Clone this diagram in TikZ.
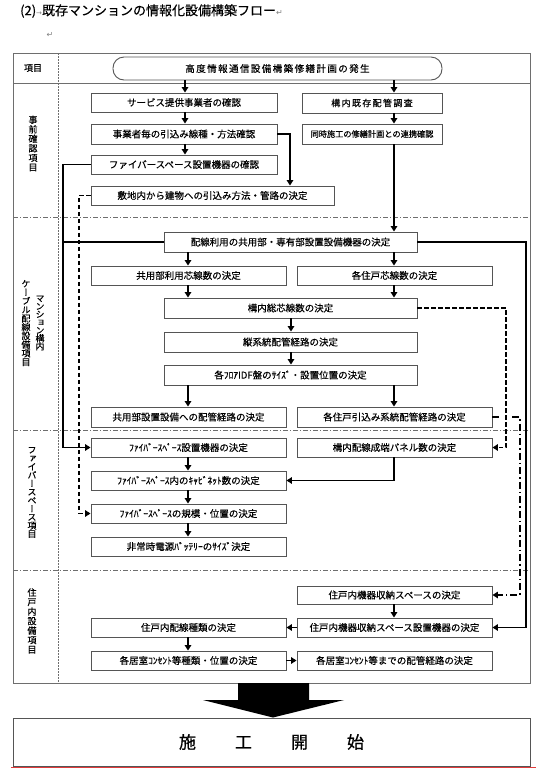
\documentclass[tikz,border=0pt]{standalone}
\usepackage{fontspec}
\setmainfont{Noto Sans CJK JP}[FakeBold=0.35]
\newfontfamily\jpv{Noto Sans CJK JP}[RawFeature=+vert,FakeBold=0.35]
\newfontfamily\jpls{Noto Sans CJK JP}[LetterSpace=15,FakeBold=0.35]
\newfontfamily\jpbig{Noto Sans CJK JP}[FakeBold=0.8]
\newfontfamily\dejavu{DejaVu Sans}
\usetikzlibrary{arrows.meta,calc}
\definecolor{boxgray}{RGB}{85,85,85}
\definecolor{tblgray}{RGB}{110,110,110}
\definecolor{redline}{RGB}{225,60,60}
\lineskiplimit=-10pt
\newcommand{\mybox}[7][]{%
  \node[box, minimum width={#5-#3}, minimum height={#6-#4}, #1] (#2) at ({(#3+#5)/2},{(#4+#6)/2}) {#7};}
\begin{document}
\begin{tikzpicture}[x=1pt,y=-1pt,
  box/.style={draw=boxgray, line width=0.9pt, fill=white, inner sep=0pt, font=\fontsize{9.5}{11}\selectfont},
  conn/.style={line width=1.4pt, black},
  arr/.style={conn, -{Triangle[length=5.5pt,width=6.5pt]}},
  dsh/.style={dash pattern=on 4.5pt off 2.5pt},
  ddot/.style={dash pattern=on 7pt off 3pt on 1.5pt off 3pt},
  sep/.style={draw=tblgray, line width=0.6pt, dash pattern=on 5pt off 2pt on 1pt off 2pt},
  vlab/.style={align=center, inner sep=0pt, font=\jpv\fontsize{9}{9.5}\selectfont},
  hlab/.style={inner sep=0pt, font=\fontsize{9}{11}\selectfont}]
\useasboundingbox (0,0) rectangle (539,769);
\fill[white] (0,0) rectangle (539,769);

% title
\node[anchor=west, inner sep=0pt, font=\fontsize{13}{15}\selectfont] (title) at (20,11)
  {(2)\textcolor{gray}{\dejavu\fontsize{7}{8}\selectfont →}既存マンションの情報化設備構築フロー\textcolor{gray}{\dejavu\fontsize{8}{8}\selectfont ↵}};
\node[inner sep=0pt, text=gray, font=\dejavu\fontsize{8}{8}\selectfont] (pmark) at (50,35) {↵};

% table
\draw[tblgray, line width=1pt] (13,53) rectangle (530,683);
\draw[tblgray, line width=0.8pt] (13,83) -- (530,83);
\draw[sep] (13,217) -- (530,217);
\draw[sep] (13,430) -- (530,430);
\draw[sep] (13,570) -- (530,570);
\draw[tblgray, line width=0.6pt, dash pattern=on 2pt off 1pt] (58,53) -- (58,683);

% row labels
\node[hlab] (L0) at (33,68) {項目};
\node[vlab] (L1) at (33,143.5) {事\\前\\確\\認\\項\\目};
\node[vlab, font=\jpv\fontsize{9}{8.7}\selectfont] (L2a) at (26,323) {ケ\\ー\\ブ\\ル\\配\\線\\設\\備\\項\\目};
\node[vlab, font=\jpv\fontsize{9}{8}\selectfont] (L2b) at (40,323) {マ\\ン\\シ\\ョ\\ン\\構\\内};
\node[vlab, font=\jpv\fontsize{9}{8.4}\selectfont] (L3) at (32,492.5) {フ\\ァ\\イ\\バ\\ー\\ス\\ペ\\ー\\ス\\項\\目};
\node[vlab] (L4) at (32,621) {住\\戸\\内\\設\\備\\項\\目};

% terminal
\node[box, rounded corners=11pt, minimum width=329, minimum height=23, font=\jpls\fontsize{9.5}{11}\selectfont] (T) at (277.5,68.5) {高度情報通信設備構築修繕計画の発生};

% boxes
\mybox{A1}{91}{93}{277}{112}{サービス提供事業者の確認}
\mybox{A2}{91}{124}{277}{144}{事業者毎の引込み線種・方法確認}
\mybox{A3}{91}{155}{277}{174}{ファイバースペース設置機器の確認}
\mybox{A4}{91}{186}{334}{205}{敷地内から建物への引込み方法・管路の決定}
\mybox[font=\jpls\fontsize{9}{11}\selectfont]{B1}{302}{93}{442}{113}{構内既存配管調査}
\mybox[font=\fontsize{8.2}{9}\selectfont]{B2}{302}{124}{442}{144}{同時施工の修繕計画との連携確認}

\mybox{C1}{164}{232}{417}{252}{配線利用の共用部・専有部設置設備機器の決定}
\mybox{C2}{91}{266}{286}{285}{共用部利用芯線数の決定}
\mybox{C3}{297}{266}{492}{285}{各住戸芯線数の決定}
\mybox{C4}{164}{298}{417}{318}{構内総芯線数の決定}
\mybox{C5}{164}{332}{417}{352}{縦系統配管経路の決定}
\mybox{C6}{164}{365}{417}{385}{各ﾌﾛｱIDF盤のｻｲｽﾞ・設置位置の決定}
\mybox{C7}{91}{407}{286}{427}{共用部設置設備への配管経路の決定}
\mybox{C8}{297}{407}{492}{427}{各住戸引込み系統配管経路の決定}

\mybox{D1}{91}{438}{286}{457}{ﾌｧｲﾊﾞｰｽﾍﾟｰｽ設置機器の決定}
\mybox{D2}{297}{438}{492}{457}{構内配線成端パネル数の決定}
\mybox{D3}{91}{471}{286}{490}{ﾌｧｲﾊﾞｰｽﾍﾟｰｽ内のｷｬﾋﾞﾈｯﾄ数の決定}
\mybox{D4}{91}{504}{286}{523}{ﾌｧｲﾊﾞｰｽﾍﾟｰｽの規模・位置の決定}
\mybox{D5}{91}{537}{286}{556}{非常時電源ﾊﾞｯﾃﾘｰのｻｲｽﾞ決定}

\mybox{E1}{297}{586}{492}{604}{住戸内機器収納スペースの決定}
\mybox{E2}{297}{618}{492}{637}{住戸内機器収納スペース設置機器の決定}
\mybox{E3}{91}{618}{286}{637}{住戸内配線種類の決定}
\mybox{E4}{91}{651}{286}{670}{各居室ｺﾝｾﾝﾄ等種類・位置の決定}
\mybox{E5}{297}{651}{492}{670}{各居室ｺﾝｾﾝﾄ等までの配管経路の決定}

% column coordinates
\coordinate (cL) at (185,0);
\coordinate (cM) at (188,0);
\coordinate (cC) at (291,0);
\coordinate (cR) at (394,0);
\coordinate (cA) at (290,0);
\coordinate (cS) at (63,0);
\coordinate (cD) at (79,0);
\coordinate (cX) at (526,0);
\coordinate (cY) at (506,0);
\coordinate (cZ) at (520,0);

% connectors
\draw[arr] (T.south -| cL) -- (A1.north -| cL);
\draw[arr] (T.south -| cR) -- (B1.north -| cR);
\draw[arr] (A1.south -| cL) -- (A2.north -| cL);
\draw[arr] (A2.south -| cL) -- (A3.north -| cL);
\draw[arr] (A2.east) -| (A4.north -| cA);
\draw[arr] (B1.south -| cR) -- (B2.north -| cR);
\draw[arr] (B2.south -| cR) -- (C1.north -| cR);
\draw[arr] (A3.west) -| (cS |- D1.west) -- (D1.west);
\draw[conn] (C1.west) -- (C1.west -| cS);
\draw[arr, dsh] (A4.west) -| (cD |- D4.west) -- (D4.west);

\draw[arr] (C1.south -| cM) -- (C2.north -| cM);
\draw[arr] (C1.south -| cR) -- (C3.north -| cR);
\draw[arr] (C2.south -| cM) -- (C4.north -| cM);
\draw[arr] (C3.south -| cR) -- (C4.north -| cR);
\draw[arr] (C4.south -| cC) -- (C5.north -| cC);
\draw[arr] (C5.south -| cC) -- (C6.north -| cC);
\draw[arr] (C6.south -| cM) -- (C7.north -| cM);
\draw[arr] (C6.south -| cR) -- (C8.north -| cR);

\draw[arr] (C1.east) -| (cX |- E2.east) -- (E2.east);
\draw[arr, dsh] (C4.east) -| (cY |- D2.east) -- (D2.east);
\draw[arr, ddot] (C8.east) -- ++(8,0) ++(12,0) -- (cZ |- C8.east) -- (cZ |- E1.east) -- (E1.east);

\draw[arr] (D1.south -| cM) -- (D3.north -| cM);
\draw[arr] (D3.south -| cM) -- (D4.north -| cM);
\draw[arr] (D4.south -| cM) -- (D5.north -| cM);
\draw[arr] (D2.south -| cR) |- (D3.east);

\draw[arr] (E1.south -| cR) -- (E2.north -| cR);
\draw[arr] (E2.west) -- (E3.east);
\draw[arr] (E3.south -| cM) -- (E4.north -| cM);
\draw[arr] (E4.east) -- (E5.west);

% start of works
\node[draw=boxgray, line width=1pt, minimum width=517, minimum height=48, inner sep=0pt, font=\jpbig\fontsize{17}{20}\selectfont] (F) at (271.5,742) {施\hspace{39pt}工\hspace{39pt}開\hspace{39pt}始};
\fill[black] (238,683) -- (309,683) -- (309,700) -- (344,700) -- (F.north -| 273,0) -- (203,700) -- (238,700) -- cycle;

\draw[redline, line width=0.8pt] (11,767.5) -- (536,767.5);
\end{tikzpicture}
\end{document}
